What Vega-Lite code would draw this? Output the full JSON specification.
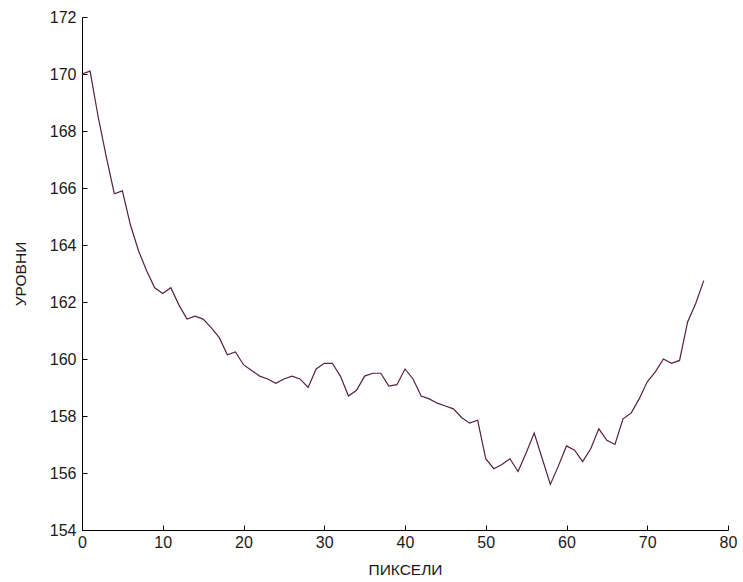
{
  "$schema": "https://vega.github.io/schema/vega-lite/v6.json",
  "autosize": {"type": "none"},
  "padding": {"left": 82, "top": 17, "right": 15, "bottom": 52},
  "width": 646,
  "height": 513,
  "background": "white",
  "config": {
    "view": {"stroke": null},
    "font": "Liberation Sans",
    "axis": {
      "grid": false,
      "domainColor": "#000000",
      "tickColor": "#000000",
      "domainWidth": 1,
      "tickWidth": 1,
      "labelFont": "Liberation Sans",
      "titleFont": "Liberation Sans",
      "labelFontSize": 16,
      "titleFontSize": 15.5,
      "titleFontWeight": "normal",
      "labelColor": "#1a1a1a",
      "titleColor": "#1a1a1a"
    }
  },
  "data": {
    "values": [
      {"px": 0, "lvl": 170.0}, {"px": 1, "lvl": 170.1}, {"px": 2, "lvl": 168.5}, {"px": 3, "lvl": 167.1},
      {"px": 4, "lvl": 165.8}, {"px": 5, "lvl": 165.9}, {"px": 6, "lvl": 164.7}, {"px": 7, "lvl": 163.8},
      {"px": 8, "lvl": 163.1}, {"px": 9, "lvl": 162.5}, {"px": 10, "lvl": 162.3}, {"px": 11, "lvl": 162.5},
      {"px": 12, "lvl": 161.9}, {"px": 13, "lvl": 161.4}, {"px": 14, "lvl": 161.5}, {"px": 15, "lvl": 161.4},
      {"px": 16, "lvl": 161.1}, {"px": 17, "lvl": 160.75}, {"px": 18, "lvl": 160.15}, {"px": 19, "lvl": 160.25},
      {"px": 20, "lvl": 159.8}, {"px": 21, "lvl": 159.6}, {"px": 22, "lvl": 159.4}, {"px": 23, "lvl": 159.3},
      {"px": 24, "lvl": 159.15}, {"px": 25, "lvl": 159.3}, {"px": 26, "lvl": 159.4}, {"px": 27, "lvl": 159.3},
      {"px": 28, "lvl": 159.0}, {"px": 29, "lvl": 159.65}, {"px": 30, "lvl": 159.85}, {"px": 31, "lvl": 159.85},
      {"px": 32, "lvl": 159.4}, {"px": 33, "lvl": 158.7}, {"px": 34, "lvl": 158.9}, {"px": 35, "lvl": 159.4},
      {"px": 36, "lvl": 159.5}, {"px": 37, "lvl": 159.5}, {"px": 38, "lvl": 159.05}, {"px": 39, "lvl": 159.1},
      {"px": 40, "lvl": 159.65}, {"px": 41, "lvl": 159.3}, {"px": 42, "lvl": 158.7}, {"px": 43, "lvl": 158.6},
      {"px": 44, "lvl": 158.45}, {"px": 45, "lvl": 158.35}, {"px": 46, "lvl": 158.25}, {"px": 47, "lvl": 157.95},
      {"px": 48, "lvl": 157.75}, {"px": 49, "lvl": 157.85}, {"px": 50, "lvl": 156.5}, {"px": 51, "lvl": 156.15},
      {"px": 52, "lvl": 156.3}, {"px": 53, "lvl": 156.5}, {"px": 54, "lvl": 156.05}, {"px": 55, "lvl": 156.7},
      {"px": 56, "lvl": 157.4}, {"px": 57, "lvl": 156.5}, {"px": 58, "lvl": 155.6}, {"px": 59, "lvl": 156.25},
      {"px": 60, "lvl": 156.95}, {"px": 61, "lvl": 156.8}, {"px": 62, "lvl": 156.4}, {"px": 63, "lvl": 156.85},
      {"px": 64, "lvl": 157.55}, {"px": 65, "lvl": 157.15}, {"px": 66, "lvl": 157.0}, {"px": 67, "lvl": 157.9},
      {"px": 68, "lvl": 158.1}, {"px": 69, "lvl": 158.6}, {"px": 70, "lvl": 159.2}, {"px": 71, "lvl": 159.55},
      {"px": 72, "lvl": 160.0}, {"px": 73, "lvl": 159.85}, {"px": 74, "lvl": 159.95}, {"px": 75, "lvl": 161.3},
      {"px": 76, "lvl": 161.95}, {"px": 77, "lvl": 162.75}
    ]
  },
  "mark": {"type": "line", "color": "#55213f", "strokeWidth": 1.2},
  "encoding": {
    "x": {
      "field": "px", "type": "quantitative",
      "scale": {"domain": [0, 80], "nice": false, "zero": false},
      "axis": {"title": "ПИКСЕЛИ", "values": [0, 10, 20, 30, 40, 50, 60, 70, 80], "tickSize": -5, "labelPadding": 9, "titlePadding": 12, "labelFlush": false}
    },
    "y": {
      "field": "lvl", "type": "quantitative",
      "scale": {"domain": [154, 172], "nice": false, "zero": false},
      "axis": {"title": "УРОВНИ", "values": [154, 156, 158, 160, 162, 164, 166, 168, 170, 172], "tickSize": -5, "labelPadding": 11, "titlePadding": 21, "labelFlush": false}
    }
  }
}
